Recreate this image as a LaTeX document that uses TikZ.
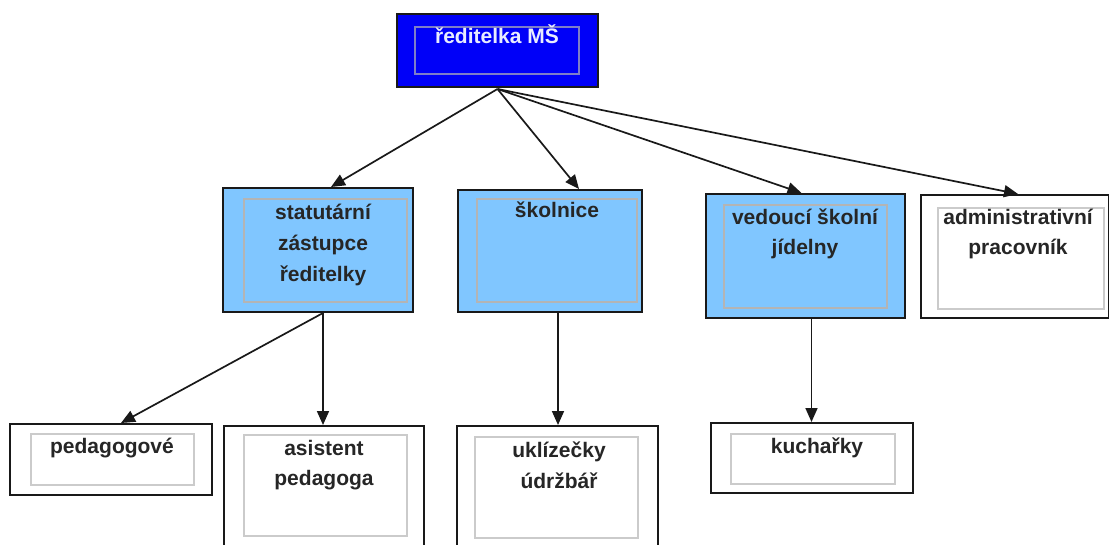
\documentclass[tikz,border=0pt]{standalone}
\usepackage{fontspec}
\setmainfont{Liberation Sans}
\usetikzlibrary{arrows.meta,calc}
\definecolor{chiefblue}{HTML}{0000F8}
\definecolor{unitblue}{HTML}{80C6FF}
\definecolor{framegray}{HTML}{B4B4B4}
\definecolor{chieftext}{HTML}{E8ECFF}
\tikzset{
  outerbox/.style={draw=black!90, line width=2pt, inner sep=0pt, anchor=north west},
  innerbox/.style={draw=framegray, line width=1.8pt, inner sep=0pt, anchor=north west},
  label/.style={anchor=base, inner sep=0pt, text=black!85, font=\fontsize{21}{25}\selectfont\bfseries},
  link/.style={line width=1.7pt, draw=black!90, -{Triangle[length=14pt,width=12pt]}},
}
\begin{document}
\begin{tikzpicture}[x=1pt, y=-1pt]
\useasboundingbox (0,0) rectangle (1109,545);
\clip (0,0) rectangle (1109,545);

% head of the school
\node[outerbox, fill=chiefblue, minimum width=201pt, minimum height=73pt] (head) at (396,13) {};
\node[innerbox, draw=framegray!70!chiefblue, minimum width=164pt, minimum height=47pt] (headin) at (414,26) {};
\node[label, text=chieftext] (headt) at (497,44) {ředitelka MŠ};

% second level
\node[outerbox, fill=unitblue, minimum width=190pt, minimum height=124pt] (stat) at (222,187) {};
\node[innerbox, minimum width=163pt, minimum height=103pt] (statin) at (243,198) {};
\node[label] (statt1) at (323,220) {statutární};
\node[label] (statt2) at (323,251) {zástupce};
\node[label] (statt3) at (323,282) {ředitelky};

\node[outerbox, fill=unitblue, minimum width=184pt, minimum height=122pt] (skol) at (457,189) {};
\node[innerbox, minimum width=160pt, minimum height=103pt] (skolin) at (476,198) {};
\node[label] (skolt) at (557,218) {školnice};

\node[outerbox, fill=unitblue, minimum width=199pt, minimum height=124pt] (ved) at (705,193) {};
\node[innerbox, minimum width=163pt, minimum height=103pt] (vedin) at (723,204) {};
\node[label] (vedt1) at (805,225) {vedoucí školní};
\node[label] (vedt2) at (805,255) {jídelny};

\node[outerbox, fill=white, minimum width=188pt, minimum height=123pt] (adm) at (920,194) {};
\node[innerbox, draw=framegray!70, minimum width=166pt, minimum height=101pt] (admin) at (937,207) {};
\node[label] (admt1) at (1018,225) {administrativní};
\node[label] (admt2) at (1018,255) {pracovník};

% third level
\node[outerbox, fill=white, minimum width=202pt, minimum height=71pt] (ped) at (9,423) {};
\node[innerbox, draw=framegray!70, minimum width=163pt, minimum height=51pt] (pedin) at (30,433) {};
\node[label] (pedt) at (112,453) {pedagogové};

\node[outerbox, fill=white, minimum width=200pt, minimum height=135pt] (asi) at (223,425) {};
\node[innerbox, draw=framegray!70, minimum width=163pt, minimum height=101pt] (asiin) at (243,434) {};
\node[label] (asit1) at (324,455) {asistent};
\node[label] (asit2) at (324,485) {pedagoga};

\node[outerbox, fill=white, minimum width=201pt, minimum height=135pt] (ukl) at (456,425) {};
\node[innerbox, draw=framegray!70, minimum width=163pt, minimum height=101pt] (uklin) at (474,436) {};
\node[label] (uklt1) at (559,457) {uklízečky};
\node[label] (uklt2) at (559,488) {údržbář};

\node[outerbox, fill=white, minimum width=202pt, minimum height=70pt] (kuch) at (710,422) {};
\node[innerbox, draw=framegray!70, minimum width=164pt, minimum height=50pt] (kuchin) at (730,433) {};
\node[label] (kucht) at (817,453) {kuchařky};

% connectors
\draw[link] ([yshift=-1pt]head.south) -- ([xshift=13pt]stat.north);
\draw[link] ([yshift=-1pt]head.south) -- ([xshift=29pt]skol.north);
\draw[link] ([yshift=-1pt]head.south) -- ([xshift=-4pt]ved.north);
\draw[link] ([yshift=-1pt]head.south) -- ([xshift=3pt]adm.north);
\draw[link] ([xshift=5pt]stat.south) -- ([xshift=10pt]ped.north);
\draw[link] ([xshift=5pt]stat.south) -- ([xshift=-1pt]asi.north);
\draw[link] ([xshift=8pt]skol.south) -- ([xshift=8pt]skol.south |- ukl.north);
\draw[link] ([xshift=6pt]ved.south) -- ([xshift=6pt]ved.south |- kuch.north);
\end{tikzpicture}
\end{document}
